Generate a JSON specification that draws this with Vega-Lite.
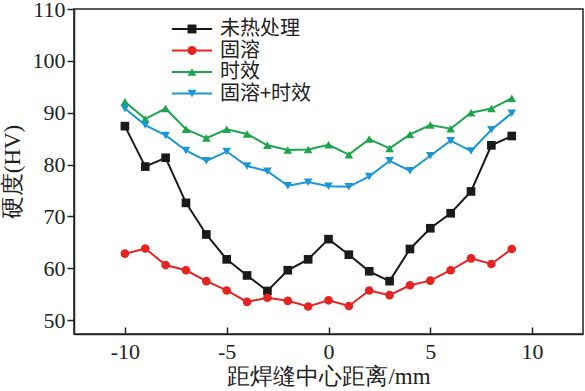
{
  "$schema": "https://vega.github.io/schema/vega-lite/v6.json",
  "width": 509,
  "height": 325,
  "autosize": "none",
  "padding": {"left": 74, "top": 9, "right": 2, "bottom": 57},
  "background": "white",
  "config": {
    "view": {"stroke": "#222", "strokeWidth": 1.5},
    "font": "Liberation Serif",
    "axis": {"grid": false, "domainColor": "#222", "tickColor": "#222", "labelColor": "#222", "titleColor": "#222", "labelFont": "Liberation Serif", "titleFont": "Liberation Serif", "labelFontSize": 22, "titleFontSize": 23, "titleFontWeight": "normal", "domainWidth": 1.5, "tickWidth": 1.5}
  },
  "data": {"values": [
    {"x": -10, "s": "未热处理", "y": 87.4}, {"x": -9, "s": "未热处理", "y": 79.6}, {"x": -8, "s": "未热处理", "y": 81.3}, {"x": -7, "s": "未热处理", "y": 72.6}, {"x": -6, "s": "未热处理", "y": 66.5}, {"x": -5, "s": "未热处理", "y": 61.7}, {"x": -4, "s": "未热处理", "y": 58.6}, {"x": -3, "s": "未热处理", "y": 55.6}, {"x": -2, "s": "未热处理", "y": 59.6}, {"x": -1, "s": "未热处理", "y": 61.7}, {"x": 0, "s": "未热处理", "y": 65.6}, {"x": 1, "s": "未热处理", "y": 62.6}, {"x": 2, "s": "未热处理", "y": 59.4}, {"x": 3, "s": "未热处理", "y": 57.5}, {"x": 4, "s": "未热处理", "y": 63.7}, {"x": 5, "s": "未热处理", "y": 67.7}, {"x": 6, "s": "未热处理", "y": 70.6}, {"x": 7, "s": "未热处理", "y": 74.8}, {"x": 8, "s": "未热处理", "y": 83.7}, {"x": 9, "s": "未热处理", "y": 85.5},
    {"x": -10, "s": "固溶", "y": 62.8}, {"x": -9, "s": "固溶", "y": 63.8}, {"x": -8, "s": "固溶", "y": 60.6}, {"x": -7, "s": "固溶", "y": 59.6}, {"x": -6, "s": "固溶", "y": 57.5}, {"x": -5, "s": "固溶", "y": 55.7}, {"x": -4, "s": "固溶", "y": 53.5}, {"x": -3, "s": "固溶", "y": 54.3}, {"x": -2, "s": "固溶", "y": 53.7}, {"x": -1, "s": "固溶", "y": 52.6}, {"x": 0, "s": "固溶", "y": 53.8}, {"x": 1, "s": "固溶", "y": 52.7}, {"x": 2, "s": "固溶", "y": 55.7}, {"x": 3, "s": "固溶", "y": 54.8}, {"x": 4, "s": "固溶", "y": 56.7}, {"x": 5, "s": "固溶", "y": 57.6}, {"x": 6, "s": "固溶", "y": 59.6}, {"x": 7, "s": "固溶", "y": 61.9}, {"x": 8, "s": "固溶", "y": 60.8}, {"x": 9, "s": "固溶", "y": 63.7},
    {"x": -10, "s": "时效", "y": 92.1}, {"x": -9, "s": "时效", "y": 88.8}, {"x": -8, "s": "时效", "y": 90.8}, {"x": -7, "s": "时效", "y": 86.8}, {"x": -6, "s": "时效", "y": 85.1}, {"x": -5, "s": "时效", "y": 86.8}, {"x": -4, "s": "时效", "y": 85.9}, {"x": -3, "s": "时效", "y": 83.7}, {"x": -2, "s": "时效", "y": 82.8}, {"x": -1, "s": "时效", "y": 82.9}, {"x": 0, "s": "时效", "y": 83.8}, {"x": 1, "s": "时效", "y": 81.9}, {"x": 2, "s": "时效", "y": 84.9}, {"x": 3, "s": "时效", "y": 83.1}, {"x": 4, "s": "时效", "y": 85.8}, {"x": 5, "s": "时效", "y": 87.6}, {"x": 6, "s": "时效", "y": 86.9}, {"x": 7, "s": "时效", "y": 90.0}, {"x": 8, "s": "时效", "y": 90.8}, {"x": 9, "s": "时效", "y": 92.8},
    {"x": -10, "s": "固溶+时效", "y": 90.8}, {"x": -9, "s": "固溶+时效", "y": 87.6}, {"x": -8, "s": "固溶+时效", "y": 85.6}, {"x": -7, "s": "固溶+时效", "y": 82.7}, {"x": -6, "s": "固溶+时效", "y": 80.7}, {"x": -5, "s": "固溶+时效", "y": 82.5}, {"x": -4, "s": "固溶+时效", "y": 79.7}, {"x": -3, "s": "固溶+时效", "y": 78.7}, {"x": -2, "s": "固溶+时效", "y": 75.9}, {"x": -1, "s": "固溶+时效", "y": 76.6}, {"x": 0, "s": "固溶+时效", "y": 75.8}, {"x": 1, "s": "固溶+时效", "y": 75.7}, {"x": 2, "s": "固溶+时效", "y": 77.7}, {"x": 3, "s": "固溶+时效", "y": 80.7}, {"x": 4, "s": "固溶+时效", "y": 78.8}, {"x": 5, "s": "固溶+时效", "y": 81.7}, {"x": 6, "s": "固溶+时效", "y": 84.6}, {"x": 7, "s": "固溶+时效", "y": 82.6}, {"x": 8, "s": "固溶+时效", "y": 86.7}, {"x": 9, "s": "固溶+时效", "y": 89.9}
  ]},
  "encoding": {
    "x": {"field": "x", "type": "quantitative", "title": "距焊缝中心距离/mm",
      "scale": {"domain": [-12.5, 12.5], "nice": false, "zero": false},
      "axis": {"values": [-10, -5, 0, 5, 10], "labelExpr": "'' + datum.value", "tickSize": -7, "labelPadding": 14, "titlePadding": 3}},
    "y": {"field": "y", "type": "quantitative", "title": "硬度(HV)",
      "scale": {"domain": [47.3, 110], "nice": false, "zero": false},
      "axis": {"values": [50, 60, 70, 80, 90, 100, 110], "tickSize": 7, "labelPadding": 2, "titlePadding": 8}}
  },
  "layer": [
    {
      "mark": {"type": "line", "strokeWidth": 2},
      "encoding": {
        "stroke": {"field": "s", "type": "nominal", "sort": null,
          "scale": {"range": ["#1a1a1a", "#e52421", "#1ca64b", "#1b96d5"]},
          "legend": {"orient": "none", "legendX": 108, "legendY": 10, "title": null, "labelFontSize": 20, "labelFont": "Noto Sans CJK SC", "labelColor": "#222", "symbolType": "M-4.5,0H4.5", "symbolSize": 80, "symbolStrokeWidth": 2, "rowPadding": 1.5, "labelOffset": 18}}
      }
    },
    {
      "mark": {"type": "point", "filled": true, "size": 75, "opacity": 1},
      "encoding": {
        "fill": {"field": "s", "type": "nominal",
          "scale": {"domain": ["未热处理", "固溶", "时效", "固溶+时效"], "range": ["#1a1a1a", "#e52421", "#1ca64b", "#1b96d5"]},
          "legend": {"orient": "none", "legendX": 108, "legendY": 10, "title": null, "labelFontSize": 20, "labelFont": "Noto Sans CJK SC", "labelExpr": "' '", "symbolSize": 80, "symbolStrokeWidth": 2, "rowPadding": 1.5, "labelOffset": 18, "symbolOpacity": 1}},
        "shape": {"field": "s", "type": "nominal",
          "scale": {"domain": ["未热处理", "固溶", "时效", "固溶+时效"], "range": ["square", "circle", "triangle-up", "triangle-down"]},
          "legend": {"orient": "none", "legendX": 108, "legendY": 10, "title": null, "labelFontSize": 20, "labelFont": "Noto Sans CJK SC", "labelExpr": "' '", "symbolSize": 80, "symbolStrokeWidth": 2, "rowPadding": 1.5, "labelOffset": 18, "symbolOpacity": 1}}
      }
    }
  ]
}
